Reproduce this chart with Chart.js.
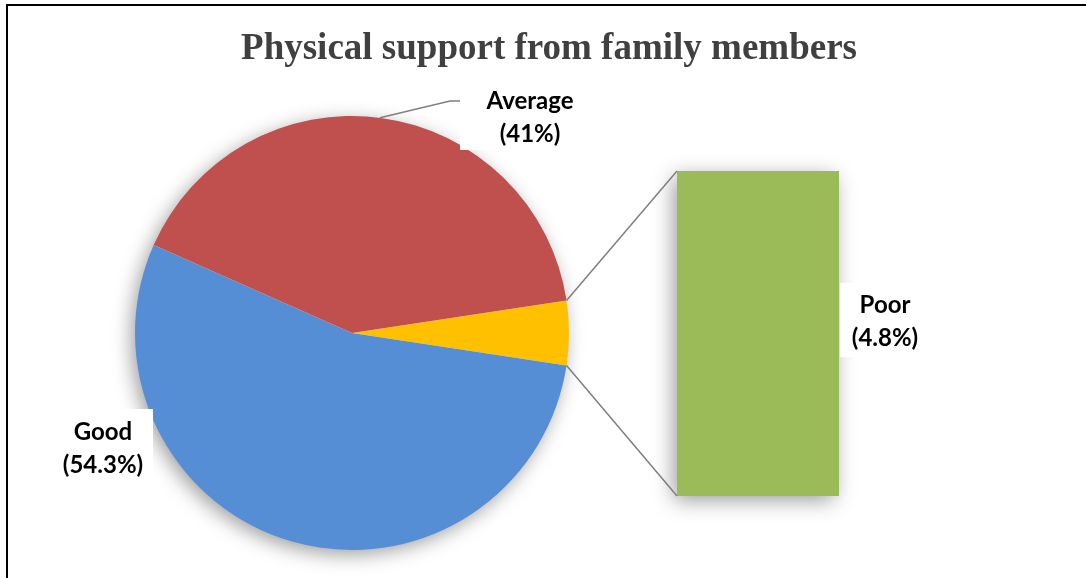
<!DOCTYPE html>
<html>
<head>
<meta charset="utf-8">
<script src="https://cdn.jsdelivr.net/npm/chart.js@4.4.1/dist/chart.umd.min.js"></script>
<style>
  body { margin: 0; background: #fff; }
  #wrap { position: relative; width: 1086px; height: 578px; overflow: hidden; }
  #wrap canvas { position: absolute; left: 0; top: 0; }
  #frame { position: absolute; left: 6px; top: 4px; right: -4px; bottom: -4px; border-left: 2px solid #000; border-top: 2px solid #000; }
  #title { position: absolute; left: 6px; width: 1086px; top: 25px; text-align: center;
    font: bold 37px "Liberation Serif", "Times New Roman", serif; color: #404040; }
</style>
</head>
<body>
<div id="wrap">
  <canvas id="pie" width="1086" height="578"></canvas>
  <canvas id="bar" width="1086" height="578"></canvas>
  <div id="frame"></div>
  <div id="title">Physical support from family members</div>
</div>
<script>
const categories = ["Poor", "Good", "Average"];
const shares = [4.8, 54.3, 41];
const sliceColors = ["#FFC000", "#558ED5", "#C0504D"];
const barLabel = ["Poor"];
const barValue = [4.8];

const labelFont = 'bold 24px Lato, "Open Sans", sans-serif';

function labelBox(ctx, x, y, w, h, lines, cx, cy) {
  ctx.fillStyle = "#fff";
  ctx.fillRect(x, y, w, h);
  ctx.fillStyle = "#000";
  ctx.font = labelFont;
  ctx.textAlign = "center";
  ctx.textBaseline = "middle";
  lines.forEach((t, i) => ctx.fillText(t, cx, cy + i * 33));
}

// shadow + labels for the pie
const pieDeco = {
  id: "pieDeco",
  beforeDatasetsDraw(chart) {
    const arc = chart.getDatasetMeta(0).data[0];
    const ctx = chart.ctx;
    ctx.save();
    ctx.shadowColor = "rgba(0,0,0,0.4)";
    ctx.shadowBlur = 20;
    ctx.shadowOffsetX = -4;
    ctx.shadowOffsetY = 5;
    ctx.fillStyle = "#fff";
    ctx.beginPath();
    ctx.arc(arc.x, arc.y, arc.outerRadius - 1, 0, Math.PI * 2);
    ctx.fill();
    ctx.restore();
  },
  afterDatasetsDraw(chart) {
    const arc = chart.getDatasetMeta(0).data[2];
    const ctx = chart.ctx;
    ctx.save();
    // leader line for Average
    const a = Math.atan2(-215, 28);
    ctx.strokeStyle = "#7F7F7F";
    ctx.lineWidth = 1.5;
    ctx.beginPath();
    ctx.moveTo(arc.x + Math.cos(a) * arc.outerRadius, arc.y + Math.sin(a) * arc.outerRadius);
    ctx.lineTo(450, 101);
    ctx.lineTo(461, 101);
    ctx.stroke();
    labelBox(ctx, 460, 85, 140, 65, [categories[2], "(" + shares[2] + "%)"], 530, 101);
    labelBox(ctx, 55, 409, 98, 72, [categories[1], "(" + shares[1] + "%)"], 103, 432);
    ctx.restore();
  }
};

const total = shares.reduce((s, v) => s + v, 0);
const startRot = 90 - (shares[0] / total) * 180;

const pieChart = new Chart(document.getElementById("pie"), {
  type: "pie",
  data: {
    labels: categories,
    datasets: [{ data: shares, backgroundColor: sliceColors, borderWidth: 0 }]
  },
  options: {
    responsive: false,
    animation: false,
    rotation: startRot,
    layout: { padding: { left: 135, top: 116, right: 517, bottom: 28 } },
    plugins: { legend: { display: false }, tooltip: { enabled: false } }
  },
  plugins: [pieDeco]
});

// bar of pie: shadow, connectors, label
const barDeco = {
  id: "barDeco",
  beforeDatasetsDraw(chart) {
    const b = chart.getDatasetMeta(0).data[0];
    const ctx = chart.ctx;
    ctx.save();
    ctx.shadowColor = "rgba(0,0,0,0.4)";
    ctx.shadowBlur = 20;
    ctx.shadowOffsetX = -4;
    ctx.shadowOffsetY = 5;
    ctx.fillStyle = "#fff";
    ctx.fillRect(b.x - b.width / 2 + 1, b.y + 1, b.width - 2, b.base - b.y - 2);
    ctx.restore();
  },
  afterDatasetsDraw(chart) {
    const b = chart.getDatasetMeta(0).data[0];
    const arc = pieChart.getDatasetMeta(0).data[0];
    const ctx = chart.ctx;
    const left = b.x - b.width / 2;
    ctx.save();
    ctx.strokeStyle = "#7F7F7F";
    ctx.lineWidth = 1.5;
    ctx.beginPath();
    ctx.moveTo(arc.x + Math.cos(arc.startAngle) * arc.outerRadius, arc.y + Math.sin(arc.startAngle) * arc.outerRadius);
    ctx.lineTo(left, b.y);
    ctx.moveTo(arc.x + Math.cos(arc.endAngle) * arc.outerRadius, arc.y + Math.sin(arc.endAngle) * arc.outerRadius);
    ctx.lineTo(left, b.base);
    ctx.stroke();
    labelBox(ctx, b.x + b.width / 2 + 1, 283, 95, 74, [barLabel[0], "(" + barValue[0] + "%)"], 885, 305);
    ctx.restore();
  }
};

new Chart(document.getElementById("bar"), {
  type: "bar",
  data: {
    labels: barLabel,
    datasets: [{ data: barValue, backgroundColor: "#9BBB59", borderWidth: 0, barPercentage: 1, categoryPercentage: 1 }]
  },
  options: {
    responsive: false,
    animation: false,
    layout: { padding: { left: 677, top: 171, right: 247, bottom: 82 } },
    scales: {
      x: { display: false },
      y: { display: false, min: 0, max: 4.8 }
    },
    plugins: { legend: { display: false }, tooltip: { enabled: false } }
  },
  plugins: [barDeco]
});
</script>
</body>
</html>
